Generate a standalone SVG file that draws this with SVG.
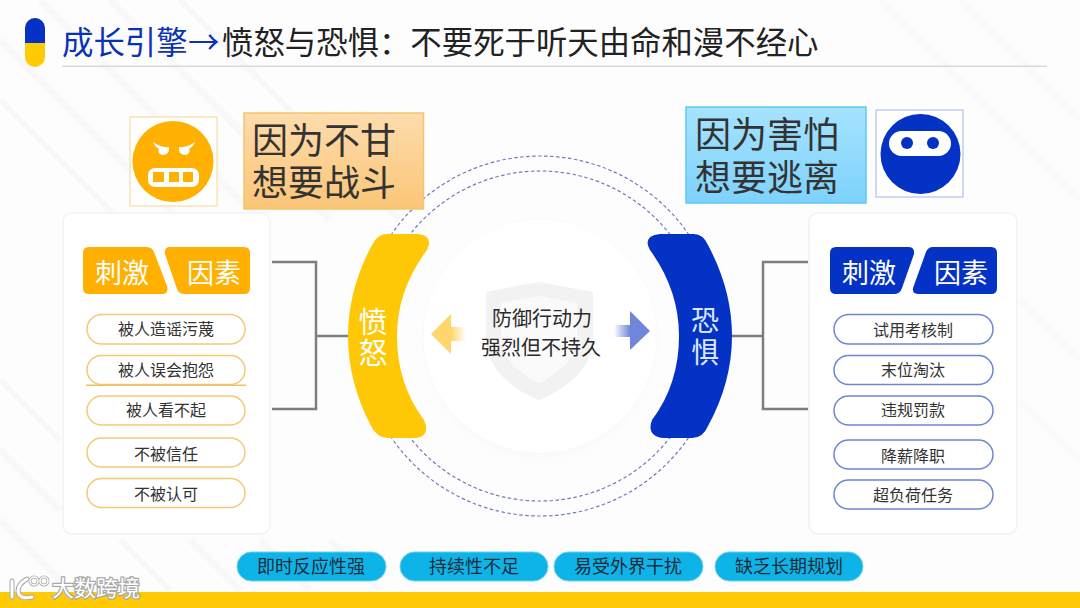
<svg xmlns="http://www.w3.org/2000/svg" width="1080" height="608" viewBox="0 0 1080 608">
<defs>
<style>
text{font-family:"Noto Sans CJK SC","Noto Sans",sans-serif}
.card{fill:#fff;stroke:#f1f2f4;stroke-width:1.5}
.t36{font-size:36px;fill:#333}
.hd{font-size:27px;fill:#fff;text-anchor:middle}
.pt{font-size:16px;fill:#333;text-anchor:middle}
.py{fill:#fff;stroke:#f1ca78;stroke-width:1.5}
.pb{fill:#fff;stroke:#6c86cf;stroke-width:1.5}
.conn{fill:none;stroke:#7f7f7f;stroke-width:2.5}
.dash{fill:none;stroke:#6e7db8;stroke-width:1.2;stroke-dasharray:3.500 2.500}
.tag{fill:#0eb4e8;stroke:#6fd0f0;stroke-width:1}
.tt{font-size:18px;fill:#1c2b3a;text-anchor:middle}
.cap{font-size:29px;text-anchor:middle}
.mid{font-size:20px;fill:#2a2a2a;text-anchor:middle}
.stripe{stroke:#f8f8fa;stroke-width:7;fill:none}
.logo{fill:none;stroke-linecap:round}
</style>
<linearGradient id="go" x1="0" y1="0" x2="0" y2="1"><stop offset="0" stop-color="#fddcac"/><stop offset="1" stop-color="#fbc577"/></linearGradient>
<linearGradient id="gb" x1="0" y1="0" x2="0" y2="1"><stop offset="0" stop-color="#a6e3ff"/><stop offset="1" stop-color="#7dd2fb"/></linearGradient>
<linearGradient id="ay" x1="0" y1="0" x2="1" y2="0"><stop offset="0" stop-color="#fdd76b"/><stop offset="1" stop-color="#fdd76b" stop-opacity="0"/></linearGradient>
<linearGradient id="ab" x1="0" y1="0" x2="1" y2="0"><stop offset="0" stop-color="#6f86dc" stop-opacity="0"/><stop offset="1" stop-color="#6f86dc"/></linearGradient>
<radialGradient id="halo" cx="0.5" cy="0.5" r="0.5"><stop offset="0.8" stop-color="#efefef"/><stop offset="1" stop-color="#fdfdfd" stop-opacity="0"/></radialGradient>
</defs>
<rect width="1080" height="608" fill="#fdfdfd"/>
<g id="background">
<path class="stripe" d="M0 40L180 220M0 100L120 220M40 0L260 220M110 0L330 220M180 0L400 220M0 380L60 440M0 450L60 510M0 520L80 600M120 540L170 590M190 540L240 590M260 540L310 590M330 540L380 590"/>
<path class="stripe" d="M880 0L1080 200M960 0L1080 120M1020 300L1080 360M1020 400L1080 460" opacity="0.6"/>
<rect x="0" y="592" width="1080" height="16" fill="#fecb05"/>
</g>
<g id="title">
<rect x="25" y="18" width="20" height="49" rx="10" fill="#fecb05"/>
<path d="M25 43V28a10 10 0 0 1 20 0V43Z" fill="#0432c4"/>
<rect x="62" y="65.500" width="985" height="1.500" fill="#d9d9d9"/>
<text x="62" y="54" font-size="31.400" fill="#222"><tspan fill="#0a32b4">成长引擎</tspan><tspan x="188" fill="#0a32b4">→</tspan><tspan x="222">愤怒与恐惧：不要死于听天由命和漫不经心</tspan></text>
</g>
<g id="center">
<circle cx="540" cy="344" r="122" fill="url(#halo)"/>
<circle cx="540" cy="336" r="117" fill="#fff" stroke="#fafafa" stroke-width="1"/>
<path d="M539 282L593 292V340C593 368 565 390 539 400C513 390 486 368 486 340V292Z" fill="#f2f2f2"/>
<path d="M539 296L577 303V338C577 358 558 374 539 383C520 374 501 358 501 338V303Z" fill="#fafafa"/>
</g>
<g id="connectors">
<circle class="dash" cx="540" cy="336" r="180"/>
<circle class="dash" cx="540" cy="336" r="165"/>
<path class="conn" d="M272 262H316V409H272M316 336H350"/>
<path class="conn" d="M808 262H763V409H808M730 336H763"/>
<path d="M451 327H466V341H451Z" fill="url(#ay)"/>
<path d="M451 314V354L431 334Z" fill="#fdd76b"/>
<path d="M614 325H630V337H614Z" fill="url(#ab)"/>
<path d="M630 311V350L650 331Z" fill="#6f86dc"/>
</g>
<g id="anger-arc">
<path d="M386 234H418Q434 236 427 250Q397 290 397 336Q397 384 424 420Q431 436 416 438H388Q377 438 371 426Q348 382 348 336Q348 290 372 245Q378 234 386 234Z" fill="#fec806"/>
<text class="cap" fill="#fff"><tspan x="373" y="333">愤</tspan><tspan x="373" y="364">怒</tspan></text>
</g>
<g id="fear-arc">
<path d="M660 234H694Q703 234 708 245Q732 290 732 336Q732 382 708 426Q703 438 692 438H664Q646 436 652 420Q679 384 679 336Q679 290 650 250Q642 236 660 234Z" fill="#0432c4"/>
<text class="cap" style="font-size:28px" fill="#dbe6ff"><tspan x="705" y="331">恐</tspan><tspan x="705" y="363">惧</tspan></text>
</g>
<g id="center-label">
<text class="mid"><tspan x="542" y="326">防御行动力</tspan><tspan x="541" y="355">强烈但不持久</tspan></text>
</g>
<g id="anger-icon">
<rect x="130" y="117" width="87" height="89" fill="#fff" stroke="#f6d68c" stroke-width="1"/>
<circle cx="173" cy="161.500" r="40.500" fill="#ffb000"/>
<path d="M153 142Q161 148 169 147Q170 155 162 155Q157 153 159 149Q155 147 153 142Z" fill="#fff"/>
<path d="M195 142Q187 148 179 147Q178 155 186 155Q191 153 189 149Q193 147 195 142Z" fill="#fff"/>
<rect x="148" y="168" width="51" height="19" rx="7" fill="#fff"/>
<path d="M153 172h11v10h-11zM169 172h10v10h-10zM183 172h10v10h-10z" fill="#ffb000"/>
</g>
<g id="anger-label">
<rect x="244" y="113" width="179.500" height="96" fill="url(#go)" stroke="#f3c56d" stroke-width="1.500"/>
<text class="t36"><tspan x="252" y="154">因为不甘</tspan><tspan x="252" y="196">想要战斗</tspan></text>
</g>
<g id="fear-label">
<rect x="686" y="107" width="180" height="96" fill="url(#gb)" stroke="#5cc9f3" stroke-width="1.500"/>
<text class="t36"><tspan x="695" y="148">因为害怕</tspan><tspan x="695" y="191">想要逃离</tspan></text>
</g>
<g id="fear-icon">
<rect x="876" y="110" width="87" height="87" fill="#fff" stroke="#a3b3e8" stroke-width="1"/>
<circle cx="920.500" cy="154" r="40" fill="#0432c4"/>
<rect x="889" y="131" width="62" height="25" rx="12.500" fill="#fff"/>
<circle cx="907" cy="143" r="6" fill="#0432c4"/>
<circle cx="933" cy="143" r="6" fill="#0432c4"/>
</g>
<g id="anger-factors">
<rect class="card" x="63" y="213" width="207" height="321" rx="9"/>
<path d="M89 247H146Q152 247 154 252L167 286Q169 294 162 294H89Q83 294 83 288V253Q83 247 89 247Z" fill="#ffb000"/>
<path d="M170 247H244Q250 247 250 253V288Q250 294 244 294H184Q179 294 177 289L165 254Q164 247 170 247Z" fill="#ffb000"/>
<text class="hd" x="122" y="283">刺激</text>
<text class="hd" x="214" y="283">因素</text>
<rect class="py" x="87" y="314.500" width="158" height="29.500" rx="14.700"/>
<rect class="py" x="87" y="355.500" width="158" height="29" rx="14.500"/>
<rect x="86" y="384.500" width="160" height="1.500" fill="#f0c160"/>
<rect class="py" x="87" y="396" width="158" height="29" rx="14.500"/>
<rect class="py" x="87" y="438" width="158" height="29" rx="14.500"/>
<rect class="py" x="87" y="478.500" width="158" height="29" rx="14.500"/>
<text class="pt" x="166" y="335">被人造谣污蔑</text>
<text class="pt" x="166" y="376">被人误会抱怨</text>
<text class="pt" x="166" y="416">被人看不起</text>
<text class="pt" x="166" y="460">不被信任</text>
<text class="pt" x="166" y="500">不被认可</text>
</g>
<g id="fear-factors">
<rect class="card" x="809" y="213" width="208" height="321" rx="9"/>
<path d="M836 247H908Q915 247 914 254L902 288Q900 294 894 294H836Q830 294 830 288V253Q830 247 836 247Z" fill="#0432c4"/>
<path d="M933 247H991Q997 247 997 253V288Q997 294 991 294H919Q912 294 913 288L926 252Q928 247 933 247Z" fill="#0432c4"/>
<text class="hd" x="869" y="283">刺激</text>
<text class="hd" x="961" y="283">因素</text>
<rect class="pb" x="834" y="314.500" width="159" height="29.500" rx="14.700"/>
<rect class="pb" x="834" y="355.500" width="159" height="29" rx="14.500"/>
<rect class="pb" x="834" y="396" width="159" height="29" rx="14.500"/>
<rect class="pb" x="834" y="440" width="159" height="29" rx="14.500"/>
<rect class="pb" x="834" y="480" width="159" height="29" rx="14.500"/>
<text class="pt" x="913" y="336">试用考核制</text>
<text class="pt" x="913" y="376">末位淘汰</text>
<text class="pt" x="913" y="416">违规罚款</text>
<text class="pt" x="913" y="462">降薪降职</text>
<text class="pt" x="913" y="501">超负荷任务</text>
</g>
<g id="traits">
<rect class="tag" x="237" y="552" width="149" height="29" rx="14.500"/>
<rect class="tag" x="400" y="552" width="148" height="29" rx="14.500"/>
<rect class="tag" x="554" y="552" width="149" height="29" rx="14.500"/>
<rect class="tag" x="715" y="552" width="148" height="29" rx="14.500"/>
<text class="tt" x="311" y="573">即时反应性强</text>
<text class="tt" x="474" y="573">持续性不足</text>
<text class="tt" x="628" y="573">易受外界干扰</text>
<text class="tt" x="789" y="573">缺乏长期规划</text>
</g>
<g id="watermark">
<path class="logo" d="M12 581V597M27 579Q18 584 18 591Q19 600 32 597" stroke="#a9a9a9" stroke-width="5"/>
<circle class="logo" cx="34" cy="581" r="4" stroke="#a9a9a9" stroke-width="3"/>
<circle class="logo" cx="44" cy="581" r="4" stroke="#a9a9a9" stroke-width="3"/>
<path class="logo" d="M12 581V597M27 579Q18 584 18 591Q19 600 32 597" stroke="#fff" stroke-width="3"/>
<circle class="logo" cx="34" cy="581" r="4" stroke="#fff" stroke-width="1.500"/>
<circle class="logo" cx="44" cy="581" r="4" stroke="#fff" stroke-width="1.500"/>
<text x="52" y="596" font-size="22" fill="#fff" stroke="#a9a9a9" stroke-width="2.500" style="paint-order:stroke">大数跨境</text>
</g>
</svg>
